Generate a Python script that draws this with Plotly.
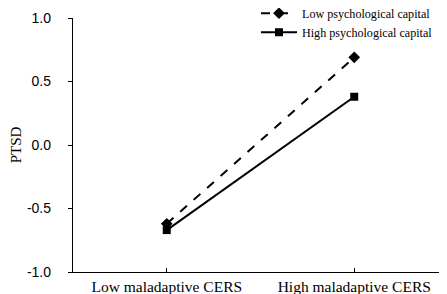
import plotly.graph_objects as go

categories = ["Low maladaptive CERS", "High maladaptive CERS"]
low_pc = [-0.62, 0.69]
high_pc = [-0.67, 0.38]
series_names = ["Low psychological capital", "High psychological capital"]
y_ticks = [-1.0, -0.5, 0.0, 0.5, 1.0]

xpos = list(range(len(categories)))

fig = go.Figure()
fig.add_trace(go.Scatter(
    x=xpos, y=low_pc, name=series_names[0], mode="lines+markers",
    line=dict(color="black", width=2, dash="dash"),
    marker=dict(symbol="diamond", size=9, color="black"),
))
fig.add_trace(go.Scatter(
    x=xpos, y=high_pc, name=series_names[1], mode="lines+markers",
    line=dict(color="black", width=2),
    marker=dict(symbol="square", size=8, color="black"),
))

fig.update_layout(
    width=447, height=294,
    margin=dict(l=65, r=7, t=10, b=30, autoexpand=False),
    plot_bgcolor="white", paper_bgcolor="white",
    showlegend=True,
    legend=dict(x=0.488, y=1.076, xanchor="left", yanchor="top",
                font=dict(family="Liberation Serif", size=12.1, color="black"),
                bgcolor="rgba(0,0,0,0)", tracegroupgap=0, itemwidth=36),
    xaxis=dict(range=[-0.5, 1.5], tickvals=[-0.5, 0, 1, 1.5],
               ticktext=["", categories[0], categories[1], ""],
               ticks="inside", ticklen=4, tickcolor="black",
               showline=True, linecolor="black", linewidth=1.3,
               showgrid=False, zeroline=False,
               tickfont=dict(family="Liberation Serif", size=15.5, color="black")),
    yaxis=dict(range=[-1.0, 1.0], tickvals=y_ticks,
               ticktext=[f"{v:.1f}" for v in y_ticks],
               ticks="outside", ticklen=4, tickcolor="black",
               ticklabelstandoff=14,
               showline=True, linecolor="black", linewidth=1.3,
               showgrid=False, zeroline=False,
               tickfont=dict(family="Liberation Sans", size=14, color="black"),
               title=dict(text="PTSD", standoff=4,
                          font=dict(family="Liberation Serif", size=15, color="black"))),
)

fig.write_html("out.html")
